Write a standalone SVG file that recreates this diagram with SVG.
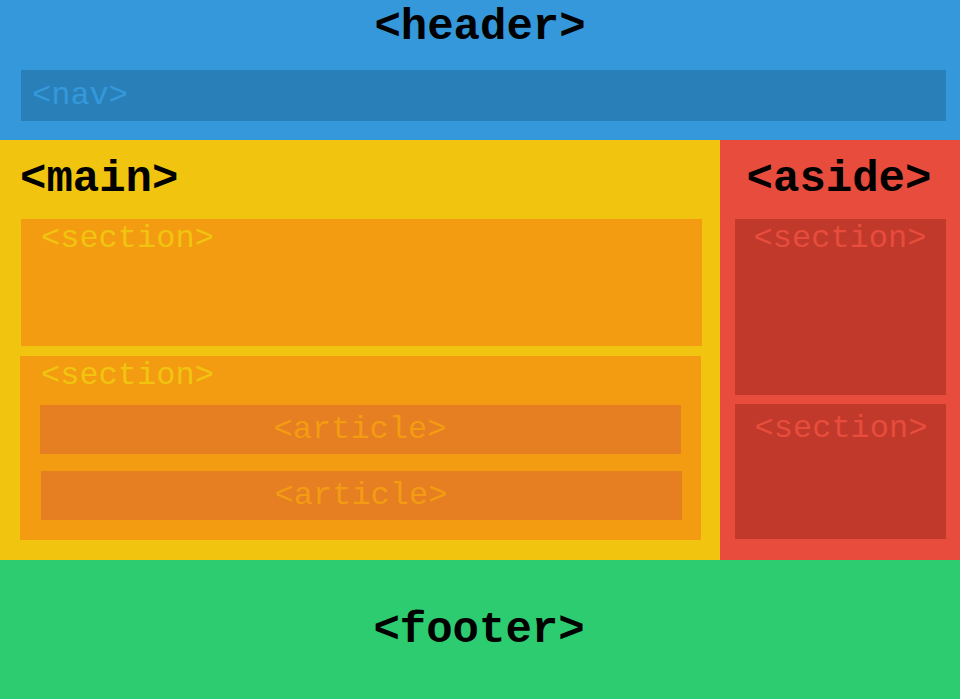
<svg xmlns="http://www.w3.org/2000/svg" width="960" height="699" viewBox="0 0 960 699">
<style>
.t{font-family:"Liberation Mono","Courier New",monospace;font-weight:bold;font-size:44px;fill:#000}
.s{font-family:"Liberation Mono","Courier New",monospace;font-size:32px}
</style>
<g id="header"><rect x="0" y="0" width="960" height="140" fill="#3498db"/><text class="t" x="480" y="39" text-anchor="middle">&lt;header&gt;</text></g>
<g id="nav"><rect x="21" y="70" width="925" height="51" fill="#2980b9"/><text class="s" x="32" y="104" fill="#3498db">&lt;nav&gt;</text></g>
<g id="main"><rect x="0" y="140" width="720" height="420" fill="#f1c40f"/><text class="t" x="20" y="191">&lt;main&gt;</text></g>
<g id="aside"><rect x="720" y="140" width="240" height="420" fill="#e74c3c"/><text class="t" x="839" y="191" text-anchor="middle">&lt;aside&gt;</text></g>
<g id="section1"><rect x="21" y="219" width="681" height="127" fill="#f39c12"/><text class="s" x="41" y="247" fill="#f1c40f">&lt;section&gt;</text></g>
<g id="section2"><rect x="20" y="356" width="681" height="184" fill="#f39c12"/><text class="s" x="41" y="384" fill="#f1c40f">&lt;section&gt;</text></g>
<g id="article1"><rect x="40" y="405" width="641" height="49" fill="#e67e22"/><text class="s" x="360" y="438" text-anchor="middle" fill="#f39c12">&lt;article&gt;</text></g>
<g id="article2"><rect x="41" y="471" width="641" height="49" fill="#e67e22"/><text class="s" x="361" y="504" text-anchor="middle" fill="#f39c12">&lt;article&gt;</text></g>
<g id="aside-section1"><rect x="735" y="219" width="211" height="176" fill="#c0392b"/><text class="s" x="840" y="247" text-anchor="middle" fill="#e74c3c">&lt;section&gt;</text></g>
<g id="aside-section2"><rect x="735" y="404" width="211" height="135" fill="#c0392b"/><text class="s" x="841" y="437" text-anchor="middle" fill="#e74c3c">&lt;section&gt;</text></g>
<g id="footer"><rect x="0" y="560" width="960" height="139" fill="#2ecc71"/><text class="t" x="479" y="642" text-anchor="middle">&lt;footer&gt;</text></g>
<g id="connectors"/>
</svg>
